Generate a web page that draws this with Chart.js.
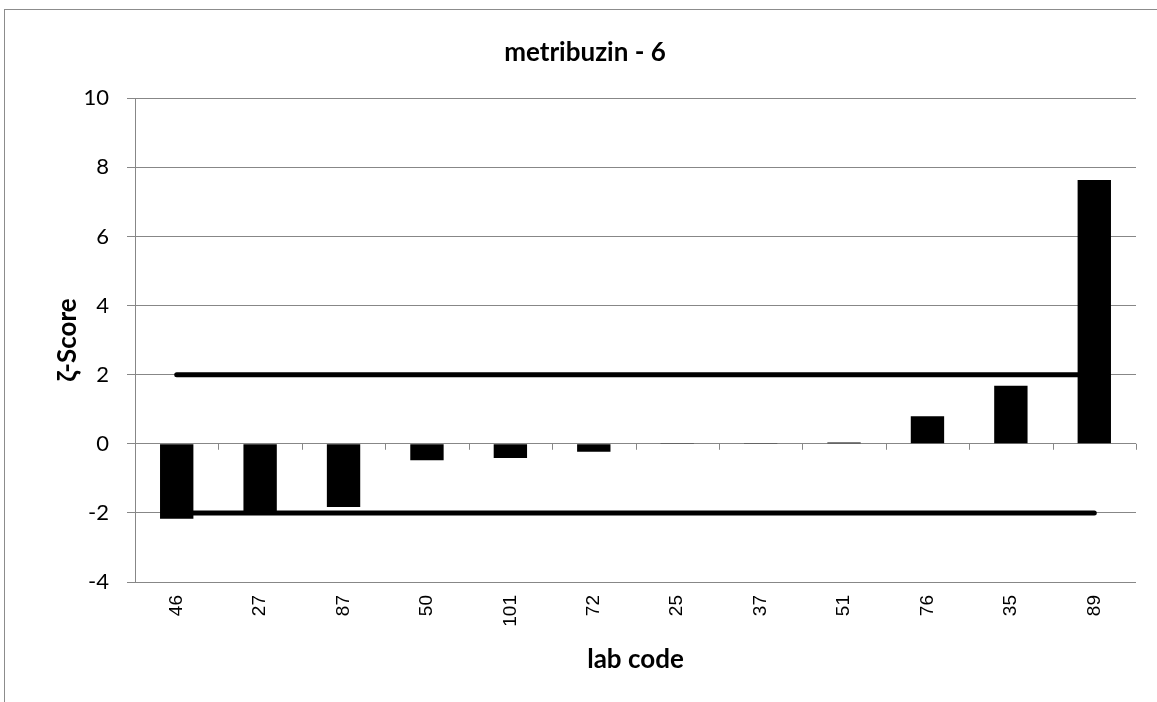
<!DOCTYPE html>
<html>
<head>
<meta charset="utf-8">
<script src="https://cdn.jsdelivr.net/npm/chart.js@4"></script>
<style>
  html, body { margin: 0; padding: 0; background: #fff; overflow: hidden; width: 1157px; height: 702px; }
  #frame {
    position: absolute; left: 4px; top: 9px;
    border-left: 1px solid #8c8c8c; border-top: 1px solid #8c8c8c;
    width: 1160px; height: 693px;
  }
</style>
</head>
<body>
<div id="frame"><canvas id="zChart" width="1160" height="693"></canvas></div>
<script>
const LAB_CODES = ['46', '27', '87', '50', '101', '72', '25', '37', '51', '76', '35', '89'];
const Z_SCORES = [-2.17, -1.95, -1.83, -0.48, -0.41, -0.23, 0.01, 0.02, 0.04, 0.80, 1.68, 7.63];
const UPPER_LIMIT = [2, 2, 2, 2, 2, 2, 2, 2, 2, 2, 2, 2];
const LOWER_LIMIT = [-2, -2, -2, -2, -2, -2, -2, -2, -2, -2, -2, -2];
const Y_MIN = -4, Y_MAX = 10, Y_STEP = 2;

const GRID = '#878787';
const TITLE_FONT = 'Lato, "Open Sans", sans-serif';

// small tick marks hanging below the zero line, between categories
const zeroTicks = {
  id: 'zeroTicks',
  beforeDatasetsDraw(chart) {
    const { ctx: c, scales } = chart;
    const x = scales.x, y = scales.y;
    const n = LAB_CODES.length;
    const slot = (x.right - x.left) / n;
    const y0 = y.getPixelForValue(0);
    c.save();
    c.strokeStyle = GRID;
    c.lineWidth = 1;
    c.beginPath();
    for (let i = 1; i <= n; i++) {
      const px = Math.round(x.left + i * slot) + 0.5;
      c.moveTo(px, y0);
      c.lineTo(px, y0 + 6);
    }
    c.stroke();
    c.restore();
  }
};

const limitLine = (data) => ({
  type: 'line',
  data,
  borderColor: '#000',
  borderWidth: 5,
  borderCapStyle: 'round',
  pointRadius: 0,
  fill: false,
  tension: 0,
  order: 1,
});

new Chart(document.getElementById('zChart').getContext('2d'), {
  data: {
    labels: LAB_CODES,
    datasets: [
      {
        type: 'bar',
        data: Z_SCORES,
        backgroundColor: '#000',
        borderWidth: 0,
        barPercentage: 0.4,
        categoryPercentage: 1.0,
        order: 0,
      },
      limitLine(UPPER_LIMIT),
      limitLine(LOWER_LIMIT),
    ]
  },
  plugins: [zeroTicks],
  options: {
    responsive: false,
    animation: false,
    plugins: {
      legend: { display: false },
      tooltip: { enabled: false },
      title: {
        display: true,
        text: 'metribuzin - 6',
        color: '#000',
        font: { family: TITLE_FONT, size: 26, weight: 'bold' },
        padding: { top: 27, bottom: 30 },
      },
    },
    scales: {
      x: {
        grid: { display: false, drawTicks: false },
        border: { display: false },
        ticks: {
          color: '#000',
          font: { family: '"Liberation Sans", Arial, sans-serif', size: 19 },
          minRotation: 90,
          maxRotation: 90,
          padding: 13,
        },
        title: {
          display: true,
          text: 'lab code',
          color: '#000',
          font: { family: TITLE_FONT, size: 26, weight: 'bold' },
          padding: { top: 0, bottom: 28 },
        },
        afterFit(scale) { scale.height = 121; },
      },
      y: {
        min: Y_MIN,
        max: Y_MAX,
        grid: { color: GRID, lineWidth: 1, tickLength: 8, tickColor: GRID },
        border: { color: GRID, width: 1 },
        ticks: {
          stepSize: Y_STEP,
          color: '#000',
          font: { family: TITLE_FONT, size: 22 },
          padding: 18,
        },
        title: {
          display: true,
          text: 'ζ-Score',
          color: '#000',
          font: { family: TITLE_FONT, size: 26, weight: 'bold' },
          padding: { top: 47, bottom: 0 },
        },
        afterFit(scale) { scale.width = 130; },
      },
      // empty right-hand spacer so the title stays centred on the whole frame
      spacer: {
        type: 'linear',
        position: 'right',
        display: true,
        grid: { display: false, drawTicks: false },
        border: { display: false },
        ticks: { display: false },
        afterFit(scale) { scale.width = 29; },
      },
    }
  }
});
</script>
</body>
</html>
